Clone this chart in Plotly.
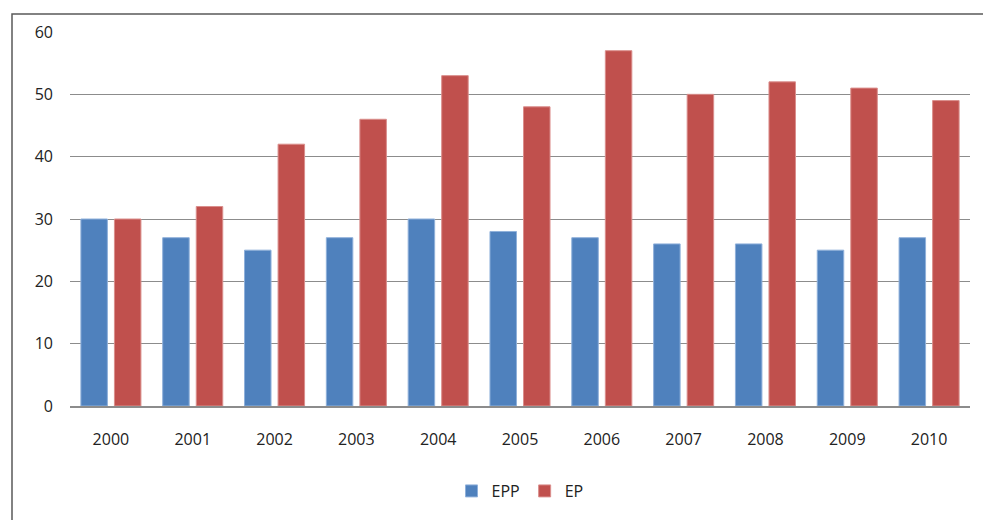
import plotly.graph_objects as go

years = ["2000", "2001", "2002", "2003", "2004", "2005", "2006", "2007", "2008", "2009", "2010"]
epp = [30, 27, 25, 27, 30, 28, 27, 26, 26, 25, 27]
ep = [30, 32, 42, 46, 53, 48, 57, 50, 52, 51, 49]
y_ticks = [0, 10, 20, 30, 40, 50, 60]

fig = go.Figure()
fig.add_trace(go.Bar(name="EPP", x=years, y=epp, marker=dict(color="#4F81BD", line=dict(color="#8FB0DA", width=1))))
fig.add_trace(go.Bar(name="EP", x=years, y=ep, marker=dict(color="#C0504D", line=dict(color="#DA8E8C", width=1))))

W, H = 983, 520
L, R, T, B = 70, 13, 32, 114
pw, ph = W - L - R, H - T - B

def px_x(p):
    return (p - L) / pw

def px_y(p):
    return (H - B - p) / ph

fig.update_layout(
    width=W, height=H,
    margin=dict(l=L, r=R, t=T, b=B),
    paper_bgcolor="white", plot_bgcolor="white",
    barmode="group", bargap=0.18, bargroupgap=0.21,
    font=dict(family="Open Sans, Noto Sans, sans-serif", size=16, color="#222222"),
    xaxis=dict(showgrid=False, showline=True, linecolor="#8C8C8C", linewidth=1.5,
               ticks="", ticklabelstandoff=18, tickfont=dict(size=16)),
    yaxis=dict(range=[0, 60], tickvals=y_ticks, showgrid=True, gridcolor="#8C8C8C", gridwidth=1.3,
               zeroline=False, showline=False, ticks="", ticklabelstandoff=16, tickfont=dict(size=16)),
    legend=dict(orientation="h", x=0.5, xanchor="center", y=px_y(491), yanchor="middle",
                font=dict(size=16), itemwidth=30, traceorder="normal"),
    showlegend=True,
    shapes=[dict(type="rect", xref="paper", yref="paper",
                 x0=px_x(12), x1=px_x(1000), y0=px_y(540), y1=px_y(14),
                 line=dict(color="#5A5A5A", width=1.5), layer="below")],
)

fig.write_html("out.html")
